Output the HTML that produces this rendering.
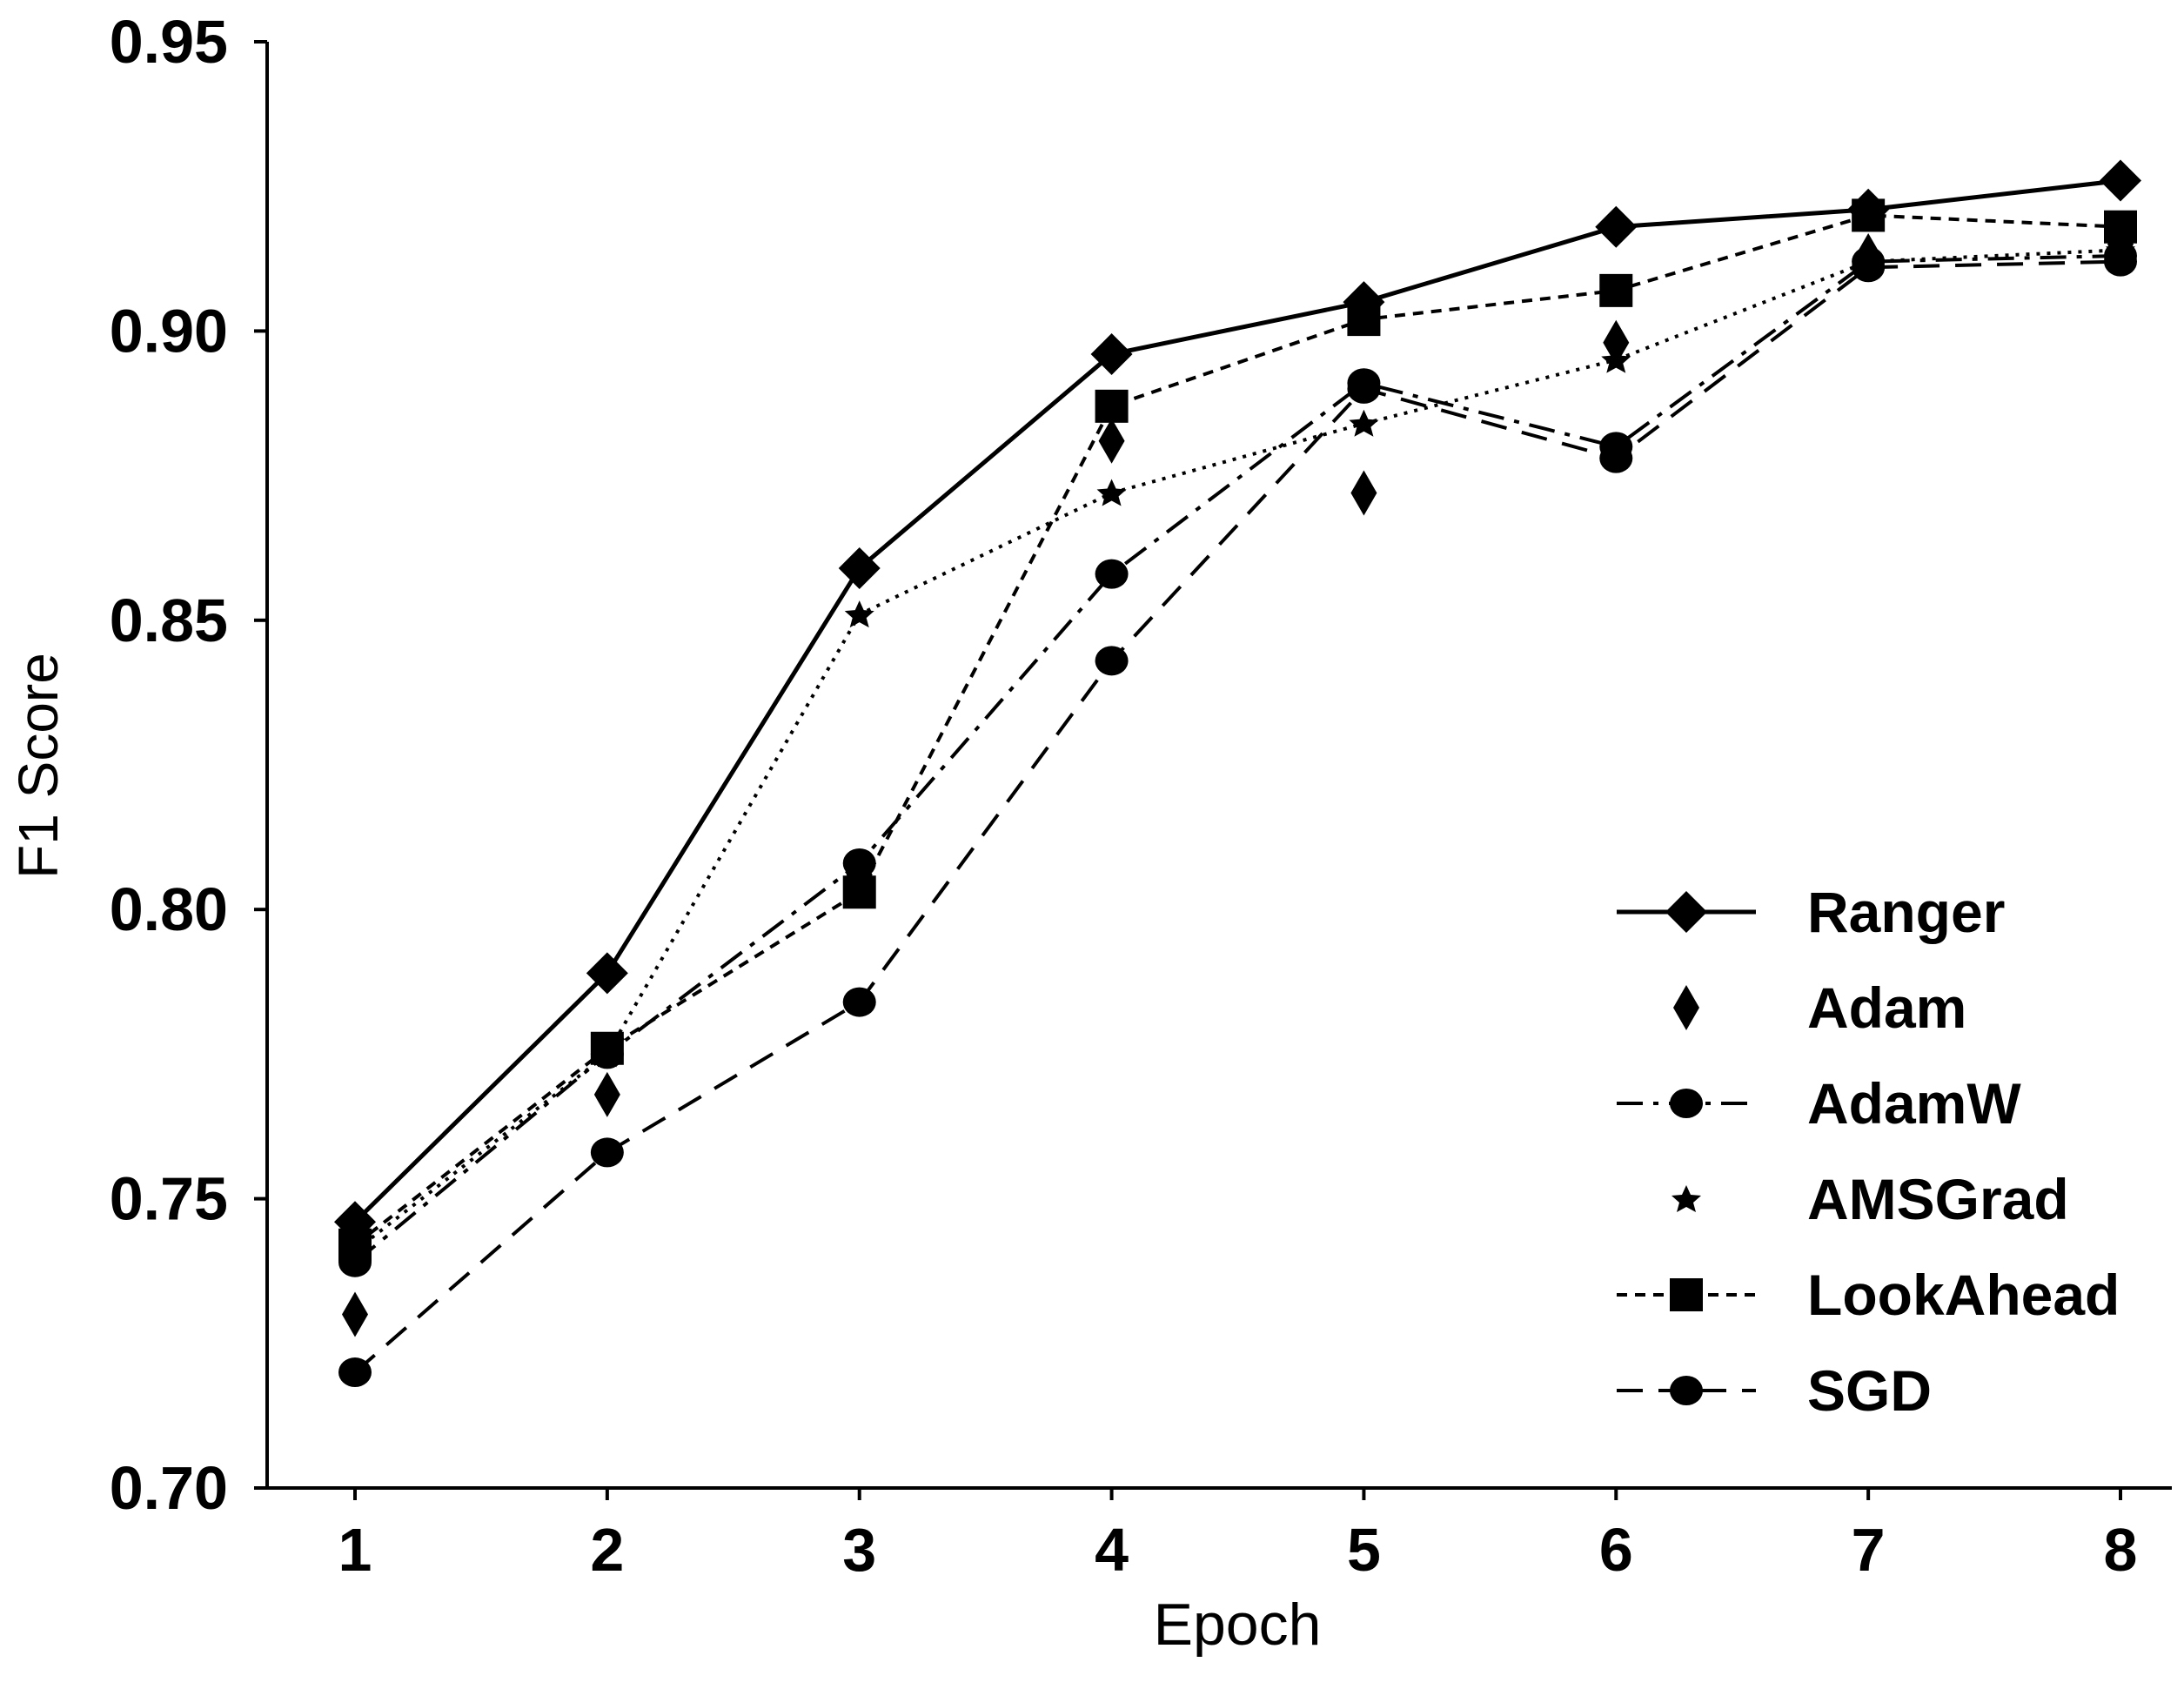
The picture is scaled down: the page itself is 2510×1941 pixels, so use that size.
<!DOCTYPE html>
<html><head><meta charset="utf-8"><style>
html,body{margin:0;padding:0;background:#fff;}
svg{display:block;font-family:"Liberation Sans",Arial,sans-serif;}
</style></head><body>
<svg id="chart" width="2510" height="1941" viewBox="0 0 2510 1941" xmlns="http://www.w3.org/2000/svg">
<g id="axes"></g>
<g id="series"></g>
<g id="legend"></g>
<text x="1422" y="1890" font-size="68" text-anchor="middle">Epoch</text>
<text transform="translate(66,880) rotate(-90)" font-size="64" text-anchor="middle">F1 Score</text>
</svg>
<script>
const epochs = [1,2,3,4,5,6,7,8];
const yTicks = [0.70,0.75,0.80,0.85,0.90,0.95];
const yTickLabels = ["0.70","0.75","0.80","0.85","0.90","0.95"];
const seriesNames = ["Ranger","Adam","AdamW","AMSGrad","LookAhead","SGD"];
const ranger = [0.746,0.789,0.859,0.896,0.905,0.918,0.921,0.926];
const adam = [0.730,0.768,0.806,0.881,0.872,0.898,0.913,0.915];
const adamw = [0.739,0.775,0.808,0.858,0.891,0.880,0.912,0.913];
const amsgrad = [0.741,0.775,0.851,0.872,0.884,0.895,0.912,0.914];
const lookahead = [0.742,0.776,0.803,0.887,0.902,0.907,0.920,0.918];
const sgd = [0.720,0.758,0.784,0.843,0.890,0.878,0.911,0.912];

const NS="http://www.w3.org/2000/svg";
const X0=408, X1=2437, Y0=1710, Y1=48;
const xs = e => X0 + (e-1)*(X1-X0)/7;
const ys = v => Y0 - (v-0.70)*(Y0-Y1)/0.25;
function mk(tag, attrs, parent){const el=document.createElementNS(NS,tag);for(const k in attrs)el.setAttribute(k,attrs[k]);parent.appendChild(el);return el;}
const axes=document.getElementById('axes');
let a=mk('line',{x1:307,y1:Y0,x2:2496,y2:Y0,stroke:'#000','stroke-width':4},axes);


a=mk('line',{x1:307,y1:Y1,x2:307,y2:Y0,stroke:'#000','stroke-width':4},axes);


yTicks.forEach((t,i)=>{
  const y=ys(t);
  const l=mk('line',{x1:292,y1:y,x2:307,y2:y,stroke:'#000','stroke-width':4},axes);
  
  
  const tx=mk('text',{x:262,y:y+24,'font-size':70,'font-weight':'bold','text-anchor':'end'},axes);
  tx.textContent=yTickLabels[i];
  
  
});
epochs.forEach(e=>{
  const x=xs(e);
  const l=mk('line',{x1:x,y1:Y0,x2:x,y2:Y0+14,stroke:'#000','stroke-width':4},axes);
  
  
  const tx=mk('text',{x:x,y:1805,'font-size':70,'font-weight':'bold','text-anchor':'middle'},axes);
  tx.textContent=String(e);
  
  
});
function marker(type,x,y,g){
  let m;
  if(type==='diamond') m=mk('polygon',{points:`${x},${y-24} ${x+24},${y} ${x},${y+24} ${x-24},${y}`,fill:'#000'},g);
  else if(type==='tall') m=mk('polygon',{points:`${x},${y-26} ${x+15},${y} ${x},${y+26} ${x-15},${y}`,fill:'#000'},g);
  else if(type==='circle') m=mk('ellipse',{cx:x,cy:y,rx:19,ry:17,fill:'#000'},g);
  else if(type==='star') m=mk('polygon',{points:`${x},${y-16} ${x+5},${y-5} ${x+17},${y-4} ${x+8},${y+4} ${x+11},${y+15} ${x},${y+9} ${x-11},${y+15} ${x-8},${y+4} ${x-17},${y-4} ${x-5},${y-5}`,fill:'#000'},g);
  else m=mk('rect',{x:x-19,y:y-19,width:38,height:38,fill:'#000'},g);
  
  
}
const styles=[
  {data:ranger,dash:'',w:5,m:'diamond',line:true},
  {data:adam,dash:'3 14',w:4,m:'tall',line:false},
  {data:adamw,dash:'30 12 6 12',w:4,m:'circle',line:true},
  {data:amsgrad,dash:'4 8',w:4,m:'star',line:true},
  {data:lookahead,dash:'12 9',w:4,m:'square',line:true},
  {data:sgd,dash:'30 18',w:4,m:'circle',line:true}
];
const sg=document.getElementById('series');
styles.forEach((s,i)=>{
  const g=mk('g',{},sg);
  
  
  if(s.line){
    const pts=s.data.map((v,j)=>xs(epochs[j])+','+ys(v)).join(' ');
    const pl=mk('polyline',{points:pts,fill:'none',stroke:'#000','stroke-width':s.w,'stroke-dasharray':s.dash},g);
    
    
  }
  s.data.forEach((v,j)=>marker(s.m,xs(epochs[j]),ys(v),g));
});
const lg=document.getElementById('legend');
styles.forEach((s,i)=>{
  const y=1048+i*110;
  const g=mk('g',{},lg);
  
  
  if(i!==1&&i!==3){
    const l=mk('line',{x1:1858,y1:y,x2:2018,y2:y,stroke:'#000','stroke-width':s.w,'stroke-dasharray':s.dash},g);
    
    
  }
  marker(s.m,1938,y,g);
  const t=mk('text',{x:2077,y:y+23,'font-size':66,'font-weight':'bold'},g);
  t.textContent=seriesNames[i];
  
  
});
</script>
</body></html>
